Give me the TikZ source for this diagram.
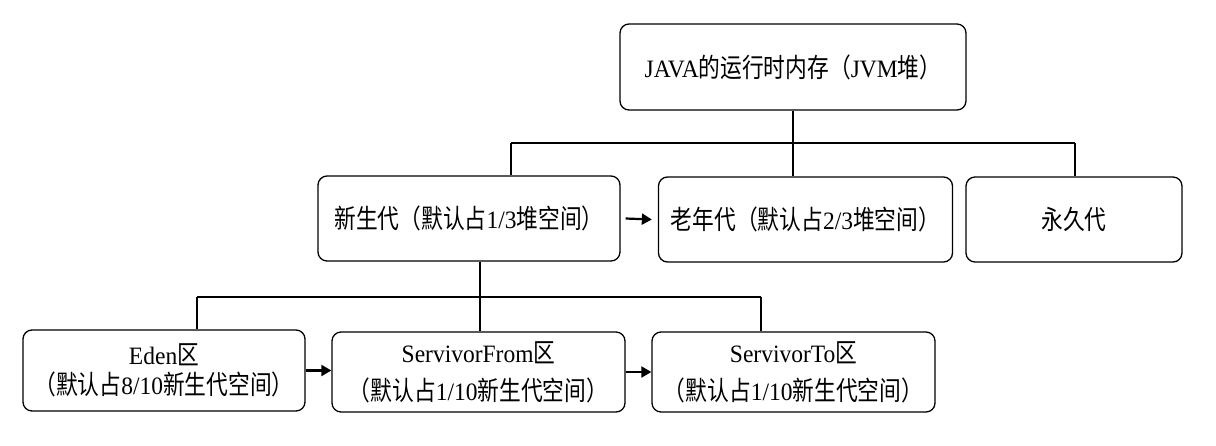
\documentclass[tikz,border=0pt]{standalone}
\usepackage{fontspec}
\setmainfont{Liberation Serif}[FakeStretch=0.94]
\newfontfamily\cj{Noto Sans CJK SC}[FakeStretch=0.82,Scale=1.06]
\usetikzlibrary{arrows.meta}
\begin{document}
\begin{tikzpicture}[x=1pt,y=-1pt,
  box/.style={draw, line width=1.3pt, rounded corners=9pt, inner sep=0pt,
    font=\fontsize{25}{30}\selectfont, align=center},
  wide/.style={font=\fontsize{25}{38}\selectfont},
  link/.style={line width=1.1pt},
  flow/.style={line width=2.2pt, -{Triangle[length=10pt,width=11pt]}}]
\useasboundingbox (0,0) rectangle (1216,445);
\node[box, minimum width=346pt, minimum height=86pt] (top) at (793,67)
  {JAVA{\cj 的运行时内存（}JVM{\cj 堆）}};
\node[box, minimum width=302pt, minimum height=85pt] (b1) at (469,218.5)
  {{\cj 新生代（默认占}1/3{\cj 堆空间）}};
\node[box, minimum width=294pt, minimum height=85pt] (b2) at (805.5,219.5)
  {{\cj 老年代（默认占}2/3{\cj 堆空间）}};
\node[box, minimum width=216pt, minimum height=85pt] (b3) at (1074,219.5)
  {{\cj 永久代}};
\node[box, minimum width=282pt, minimum height=81pt] (eden) at (164,370.5)
  {Eden{\cj 区}\\{\cj （默认占}8/10{\cj 新生代空间）}};
\node[box, wide, minimum width=293pt, minimum height=80pt] (from) at (478.5,372)
  {ServivorFrom{\cj 区}\\{\cj （默认占}1/10{\cj 新生代空间）}};
\node[box, wide, minimum width=283pt, minimum height=80pt] (to) at (793.5,372)
  {ServivorTo{\cj 区}\\{\cj （默认占}1/10{\cj 新生代空间）}};
\coordinate (ha) at (511,143);
\coordinate (hb) at (1075,143);
\draw[link] (top.south) -- (top.south |- ha);
\draw[link] (ha) -- (hb);
\draw[link] (ha) -- (ha |- b1.north);
\draw[link] (top.south |- ha) -- (top.south |- b2.north);
\draw[link] (hb) -- (hb |- b3.north);
\coordinate (la) at (197,297);
\coordinate (lm) at (480,297);
\coordinate (lb) at (761,297);
\draw[link] (b1.south -| lm) -- (lm);
\draw[link] (la) -- (lb);
\draw[link] (la) -- (la |- eden.north);
\draw[link] (lm) -- (lm |- from.north);
\draw[link] (lb) -- (lb |- to.north);
\draw[flow] ([xshift=5pt]b1.east) -- ([xshift=-6pt]b2.west);
\draw[flow] (eden.east) -- (eden.east -| from.west);
\draw[flow] (from.east) -- (from.east -| to.west);
\end{tikzpicture}
\end{document}
